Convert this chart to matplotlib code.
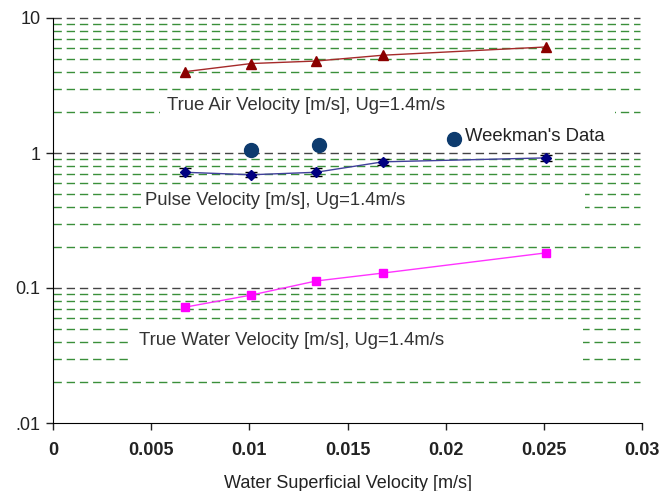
import matplotlib
matplotlib.use("Agg")
import matplotlib.pyplot as plt
from matplotlib.patches import Rectangle
from matplotlib.ticker import FixedLocator, NullLocator, FixedFormatter

plt.rcParams['font.family'] = ['Liberation Sans', 'DejaVu Sans']

x = [0.0067, 0.0101, 0.0134, 0.0168, 0.0251]
air = [4.0, 4.6, 4.8, 5.3, 6.1]
pulse = [0.72, 0.69, 0.72, 0.86, 0.92]
pulse_err = [0.05, 0.03, 0.05, 0.04, 0.05]
water = [0.072, 0.0887, 0.1127, 0.129, 0.182]
weekman_x = [0.0101, 0.01355, 0.0204]
weekman_y = [1.05, 1.15, 1.27]

xticks = [0, 0.005, 0.01, 0.015, 0.02, 0.025, 0.03]
xticklabels = ["0", "0.005", "0.01", "0.015", "0.02", "0.025", "0.03"]
yticks = [10, 1, 0.1, 0.01]
yticklabels = ["10", "1", "0.1", ".01"]

fig = plt.figure(figsize=(6.7, 4.91), dpi=100)
ax = fig.add_axes([53/670, 1-423/491, (642-53)/670, (423-18)/491])
ax.set_yscale('log')
ax.set_xlim(0, 0.03)
ax.set_ylim(0.01, 10)

# grid lines
dash = (0, (6, 3.5))
for dec in [0.01, 0.1, 1]:
    for m in range(2, 10):
        ax.axhline(m*dec, xmax=0.997, color='#3a8f3a', lw=1.0, ls=dash, zorder=1)
for v in [0.1, 1, 10]:
    ax.axhline(v, xmax=0.997, color='#444444', lw=1.0, ls=dash, zorder=1, clip_on=False)

# white label boxes hiding grid lines
boxes = [(0.00545, 0.0286, 1.75, 2.6),
         (0.0047, 0.0271, 0.35, 0.55),
         (0.0039, 0.0270, 0.026, 0.055)]
for x0, x1, y0, y1 in boxes:
    ax.add_patch(Rectangle((x0, y0), x1-x0, y1-y0, facecolor='white',
                           edgecolor='none', zorder=2))

ax.plot(x, air, color='#a52a2a', lw=1.0, marker='^', ms=7,
        mfc='#8b0000', mec='#8b0000', zorder=4)
ax.errorbar(x, pulse, yerr=pulse_err, color='#40409a', lw=1.0, marker='D', ms=5,
            mfc='#000080', mec='#000080', ecolor='black', elinewidth=1,
            capsize=4, zorder=4)
ax.plot(weekman_x, weekman_y, ls='none', marker='o', ms=10, color='#0d3b6e', zorder=4)
ax.plot(x, water, color='#ff33ff', lw=1.0, marker='s', ms=6,
        mfc='#ff00ff', mec='#ff00ff', zorder=4)

tfs = 13.3
ax.text(0.0058, 2.25, "True Air Velocity [m/s], Ug=1.4m/s", fontsize=tfs,
        color='#333333', va='center', ha='left', zorder=5)
ax.text(0.0047, 0.445, "Pulse Velocity [m/s], Ug=1.4m/s", fontsize=tfs,
        color='#333333', va='center', ha='left', zorder=5)
ax.text(0.0044, 0.0405, "True Water Velocity [m/s], Ug=1.4m/s", fontsize=tfs,
        color='#333333', va='center', ha='left', zorder=5)
ax.text(0.0210, 1.33, "Weekman's Data", fontsize=tfs, color='#222222',
        va='center', ha='left', zorder=5)

ax.spines['top'].set_visible(False)
ax.spines['right'].set_visible(False)
ax.yaxis.set_major_locator(FixedLocator(yticks))
ax.yaxis.set_major_formatter(FixedFormatter(yticklabels))
ax.yaxis.set_minor_locator(NullLocator())
ax.set_xticks(xticks)
ax.set_xticklabels(xticklabels, fontweight='bold')
ax.tick_params(axis='both', direction='out', length=5, width=1, labelsize=13,
               colors='#222222')
ax.tick_params(axis='x', pad=9)
ax.tick_params(axis='y', pad=4)
ax.set_xlabel("Water Superficial Velocity [m/s]", fontsize=13, labelpad=11,
              color='#222222')

fig.savefig("out.png", dpi=100)
